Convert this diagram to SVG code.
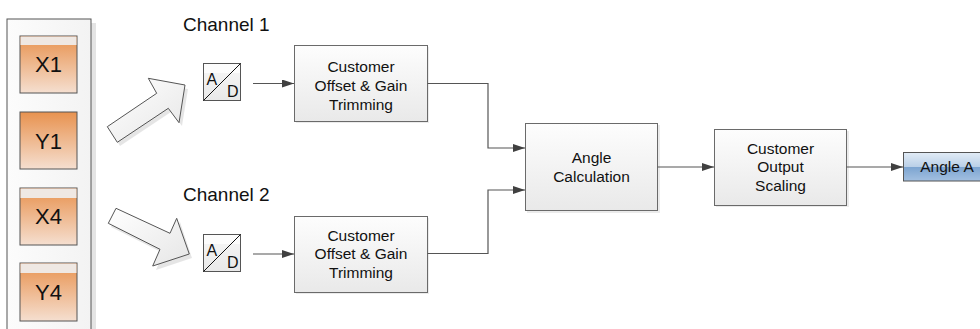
<svg xmlns="http://www.w3.org/2000/svg" width="980" height="329" viewBox="0 0 980 329">
<defs>
<linearGradient id="gBox" x1="0" y1="0" x2="0" y2="1">
<stop offset="0" stop-color="#FDFDFD"/><stop offset="1" stop-color="#E9E9E9"/>
</linearGradient>
<linearGradient id="gCont" x1="0" y1="0" x2="1" y2="0">
<stop offset="0" stop-color="#FCFCFC"/><stop offset="1" stop-color="#F3F3F3"/>
</linearGradient>
<linearGradient id="gOrange" x1="0" y1="0" x2="0" y2="1">
<stop offset="0" stop-color="#E8924F"/><stop offset="1" stop-color="#F5DFD0"/>
</linearGradient>
<linearGradient id="gArrow" x1="0" y1="0" x2="1" y2="1">
<stop offset="0" stop-color="#FFFFFF"/><stop offset="1" stop-color="#E6E6E6"/>
</linearGradient>
<linearGradient id="gBlueTop" x1="0" y1="0" x2="0" y2="1">
<stop offset="0" stop-color="#E2ECF6"/><stop offset="1" stop-color="#B9CFE7"/>
</linearGradient>
<linearGradient id="gBlueBot" x1="0" y1="0" x2="0" y2="1">
<stop offset="0" stop-color="#7CA4D0"/><stop offset="1" stop-color="#A3C0E1"/>
</linearGradient>
<linearGradient id="gAD" x1="0" y1="0" x2="0" y2="1">
<stop offset="0" stop-color="#F7F7F7"/><stop offset="1" stop-color="#E8E8E8"/>
</linearGradient>
<marker id="arr" markerUnits="userSpaceOnUse" markerWidth="12" markerHeight="8" refX="12" refY="4" orient="auto">
<path d="M0,0 L12,4 L0,8 z" fill="#404040"/>
</marker>
</defs>
<style>
text{font-family:"Liberation Sans",Arial,sans-serif;fill:#111}
.box{fill:url(#gBox);stroke:#6A6A6A;stroke-width:1}
.shadow{fill:#000;opacity:0.08}
.lbl{font-size:15.5px;text-anchor:middle}
.sq{fill:url(#gOrange);stroke:#555;stroke-width:1}
.band{fill:#EFE8E3}
.sqt{font-size:22px;text-anchor:middle}
.chan{font-size:19px}
.ad{fill:url(#gAD);stroke:#555;stroke-width:1}
.adt{font-size:16px}
.fat{fill:url(#gArrow);stroke:#555;stroke-width:1}
.conn{fill:none;stroke:#555;stroke-width:1.2;marker-end:url(#arr)}
</style>

<g id="sensor-panel">
<rect x="91" y="23" width="5" height="306" fill="#E4E4E4"/>
<rect x="7" y="19" width="84" height="320" fill="url(#gCont)" stroke="#555" stroke-width="1"/>
</g>
<g id="X1">
<rect class="sq" x="20" y="36" width="57" height="57"/>
<rect class="band" x="20.5" y="36.5" width="56" height="8.5"/>
<text class="sqt" x="48.5" y="72">X1</text>
</g>
<g id="Y1">
<rect class="sq" x="20" y="112" width="57" height="57"/>
<text class="sqt" x="48.5" y="148.5">Y1</text>
</g>
<g id="X4">
<rect class="sq" x="20" y="188" width="57" height="57"/>
<rect class="band" x="20.5" y="188.5" width="56" height="9.5"/>
<text class="sqt" x="48.5" y="223.5">X4</text>
</g>
<g id="Y4">
<rect class="sq" x="20" y="263" width="57" height="58"/>
<rect class="band" x="20.5" y="263.5" width="56" height="9.5"/>
<text class="sqt" x="48.5" y="300">Y4</text>
</g>

<g id="arrow1">
<polygon points="110,130 120,146 171,112 182,126 188,89 151,82 159,97" fill="#000" opacity="0.1"/>
<polygon class="fat" points="107.3,126.7 117.3,142.3 168.3,108.3 179,122.7 185,85 148.3,78.3 156.7,93.3"/>
</g>
<g id="arrow2">
<polygon points="119,212 111,227 163,253 156,270 192,258 180,222 173,237" fill="#000" opacity="0.1"/>
<polygon class="fat" points="116,208.3 108.3,223.3 160,249.3 152.7,266 189.3,254 176.7,218.3 170,233.3"/>
</g>

<g id="channel1-label"><text class="chan" x="183" y="31">Channel 1</text></g>
<g id="channel2-label"><text class="chan" x="183" y="201">Channel 2</text></g>

<g id="adc1">
<rect class="ad" x="203.5" y="63.5" width="37" height="37"/>
<rect x="204" y="64" width="36" height="9" fill="#FFFFFF" opacity="0.7"/>
<line x1="203.5" y1="100.5" x2="240.5" y2="63.5" stroke="#111" stroke-width="1"/>
<text class="adt" x="206.5" y="85">A</text>
<text class="adt" x="227" y="97">D</text>
</g>
<g id="adc2">
<rect class="ad" x="203.5" y="234.5" width="37" height="37"/>
<rect x="204" y="235" width="36" height="9" fill="#FFFFFF" opacity="0.7"/>
<line x1="203.5" y1="271.5" x2="240.5" y2="234.5" stroke="#111" stroke-width="1"/>
<text class="adt" x="206.5" y="256">A</text>
<text class="adt" x="227" y="268">D</text>
</g>

<g id="trim1">
<rect class="shadow" x="296" y="47" width="133" height="76"/>
<rect class="box" x="294.5" y="45.5" width="133" height="76"/>
<text class="lbl" x="361" y="71.5">Customer</text>
<text class="lbl" x="361" y="90.5">Offset &amp; Gain</text>
<text class="lbl" x="361" y="109.5">Trimming</text>
</g>
<g id="trim2">
<rect class="shadow" x="296" y="218" width="133" height="76"/>
<rect class="box" x="294.5" y="216.5" width="133" height="76"/>
<text class="lbl" x="361" y="240.5">Customer</text>
<text class="lbl" x="361" y="259">Offset &amp; Gain</text>
<text class="lbl" x="361" y="277.5">Trimming</text>
</g>
<g id="angle-calc">
<rect class="shadow" x="527" y="125" width="133" height="88"/>
<rect class="box" x="525.5" y="123.5" width="132" height="87"/>
<text class="lbl" x="591.5" y="163">Angle</text>
<text class="lbl" x="591.5" y="181.5">Calculation</text>
</g>
<g id="output-scaling">
<rect class="shadow" x="716" y="131" width="133" height="76"/>
<rect class="box" x="714.5" y="129.5" width="132" height="76"/>
<text class="lbl" x="780.5" y="153.5">Customer</text>
<text class="lbl" x="780.5" y="172">Output</text>
<text class="lbl" x="780.5" y="190.5">Scaling</text>
</g>
<g id="angle-a">
<rect x="903.5" y="152.5" width="80" height="14.5" fill="url(#gBlueTop)"/>
<rect x="903.5" y="167" width="80" height="14" fill="url(#gBlueBot)"/>
<rect x="903.5" y="152.5" width="80" height="28.5" fill="none" stroke="#555" stroke-width="1"/>
<text x="947" y="172" style="font-size:15.5px;text-anchor:middle">Angle A</text>
</g>

<g id="connectors">
<path class="conn" d="M253,83.5 H294"/>
<path class="conn" d="M253,254 H294"/>
<path class="conn" d="M427.5,83.5 H488 V148 H525"/>
<path class="conn" d="M427.5,253.5 H488 V190 H525"/>
<path class="conn" d="M657.5,167 H714"/>
<path class="conn" d="M846.5,167 H903"/>
</g>
</svg>
